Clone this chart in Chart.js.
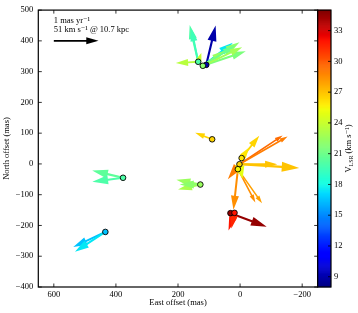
<!DOCTYPE html>
<html>
<head>
<meta charset="utf-8">
<script src="https://cdn.jsdelivr.net/npm/chart.js@4.4.1/dist/chart.umd.min.js"></script>
<style>
  html, body { margin: 0; padding: 0; background: #fff; }
  #wrap { width: 358px; height: 313px; }
</style>
</head>
<body>
<div id="wrap"><canvas id="c"></canvas></div>
<script>
// maser spots: east offset, north offset (mas), V_LSR (km/s)
const spotX = [109, 135, 120, 90, -5, 2, 7, 31, 18, 128, 377, 434];
const spotY = [322, 332, 319, 80, 19, -1, -17, -160, -159, -67, -45, -221];
const spotV = [9, 20, 22, 26.5, 26, 26.5, 25.5, 34.5, 32, 22.5, 20, 16.5];

// proper motions: start position (mas), motion east / north (mas/yr), V_LSR
const pmX = [109, 135, 135, 135, 120, 120, 120, 120, 135, 120, 120, 90,
  2, 2, -5, -5, 2, 2, 2, 7, 7, 7, 2, 2,
  31, 18, 18, 128, 128, 128, 377, 377, 434, 434];
const pmY = [322, 332, 332, 332, 319, 319, 319, 319, 332, 319, 319, 80,
  -1, -1, 19, 19, -1, -1, -1, -17, -17, -17, -1, -1,
  -160, -159, -159, -67, -67, -67, -45, -45, -221, -221];
const pmEast = [-0.21, 0.19, 0.15, 0.5, -0.67, -0.82, -0.96, -0.48, -0.07, -0.72, -0.88, 0.38,
  -0.965, -1.076, -0.395, -0.17, -1.337, -0.847, 0.26, -0.39, -0.54, 0.1, -0.07, 0.045,
  -0.81, 0.134, 0.07, 0.535, 0.5, 0.46, 0.69, 0.687, 0.718, 0.68];
const pmNorth = [0.89, 0.83, 0.74, -0.03, 0.52, 0.53, 0.33, 0.34, 0.2, 0.45, 0.42, 0.15,
  0.65, 0.625, 0.507, 0.24, -0.083, 0, -0.34, -0.75, -0.77, -0.915, -0.33, -0.22,
  -0.306, -0.4, -0.355, 0.11, -0.11, 0, 0.165, -0.09, -0.34, -0.447];
const pmV = [9, 20, 19.5, 23.5, 17.5, 22, 21.5, 22.5, 24, 21, 22.8, 26.5,
  29.5, 29, 26.5, 26, 27, 27, 29, 28.5, 28, 28.5, 25, 25.5,
  34.5, 32, 31.5, 22.5, 23, 22, 20.5, 20, 16.5, 17.5];

// scale arrow: 1 mas/yr drawn at (600, 400)
const refArrow = { x: 600, y: 400, east: -1, north: 0 };
const refText = ["1 mas yr\u207B\u00B9", "51 km s\u207B\u00B9 @ 10.7 kpc"];

const xTicks = [600, 400, 200, 0, -200];
const yTicks = [500, 400, 300, 200, 100, 0, -100, -200, -300, -400];
const cbTicks = [9, 12, 15, 18, 21, 24, 27, 30, 33];
const cbMin = 8, cbMax = 35;

// style: head width (px) of each arrow, same order as pmX
const headPx = [9, 8, 7, 7, 8, 8, 8, 7, 6, 7, 7, 5.5,
  4.5, 4.5, 7, 7, 10, 7, 9, 4.5, 4.5, 8, 9, 8,
  9, 8, 8, 8, 8, 8, 9, 9, 8, 8];
const pmScale = 144; // mas of plot per mas/yr
const FONT = "'Liberation Serif', 'DejaVu Serif', serif";
const fsz = 8.5;

function jet(v) {
  const t = Math.min(1, Math.max(0, (v - cbMin) / (cbMax - cbMin)));
  function lerp(pts) {
    for (let i = 1; i < pts.length; i++) {
      if (t <= pts[i][0]) {
        const a = pts[i - 1], b = pts[i];
        return a[1] + (b[1] - a[1]) * (t - a[0]) / (b[0] - a[0]);
      }
    }
    return pts[pts.length - 1][1];
  }
  const r = lerp([[0, 0], [0.35, 0], [0.66, 1], [0.89, 1], [1, 0.5]]);
  const g = lerp([[0, 0], [0.125, 0], [0.375, 1], [0.64, 1], [0.91, 0], [1, 0]]);
  const b = lerp([[0, 0.5], [0.11, 1], [0.34, 1], [0.65, 0], [1, 0]]);
  return "rgb(" + Math.round(r * 255) + "," + Math.round(g * 255) + "," + Math.round(b * 255) + ")";
}

function fmt(v) {
  return v < 0 ? "\u2212" + Math.abs(v) : String(v);
}

function drawArrow(ctx, x0, y0, x1, y1, head, color) {
  const dx = x1 - x0, dy = y1 - y0, len = Math.hypot(dx, dy);
  if (len < 0.5) return;
  const ux = dx / len, uy = dy / len, nx = -uy, ny = ux;
  const hl = Math.min(head * 1.75, len * 0.85), hw = head / 2, sw = 0.5 + head / 16;
  const bx = x1 - ux * hl, by = y1 - uy * hl;
  ctx.fillStyle = color;
  ctx.beginPath();
  ctx.moveTo(x0 + nx * sw, y0 + ny * sw);
  ctx.lineTo(bx + nx * sw, by + ny * sw);
  ctx.lineTo(bx + nx * hw, by + ny * hw);
  ctx.lineTo(x1, y1);
  ctx.lineTo(bx - nx * hw, by - ny * hw);
  ctx.lineTo(bx - nx * sw, by - ny * sw);
  ctx.lineTo(x0 - nx * sw, y0 - ny * sw);
  ctx.closePath();
  ctx.fill();
}

const arrowPlugin = {
  id: "arrows",
  beforeDatasetsDraw(chart) {
    const { ctx, scales: { x, y } } = chart;
    ctx.save();
    for (let i = 0; i < pmX.length; i++) {
      drawArrow(ctx,
        x.getPixelForValue(pmX[i]), y.getPixelForValue(pmY[i]),
        x.getPixelForValue(pmX[i] + pmEast[i] * pmScale),
        y.getPixelForValue(pmY[i] + pmNorth[i] * pmScale),
        headPx[i], jet(pmV[i]));
    }
    // reference arrow and its text
    const rx = x.getPixelForValue(refArrow.x), ry = y.getPixelForValue(refArrow.y);
    drawArrow(ctx, rx, ry,
      x.getPixelForValue(refArrow.x + refArrow.east * pmScale),
      y.getPixelForValue(refArrow.y + refArrow.north * pmScale), 7, "#000");
    ctx.fillStyle = "#000";
    ctx.font = fsz + "px " + FONT;
    ctx.textAlign = "left";
    ctx.textBaseline = "alphabetic";
    ctx.fillText(refText[0], rx, ry - 18);
    ctx.fillText(refText[1], rx, ry - 9);
    ctx.restore();
  },
  afterDatasetsDraw(chart) {
    const { ctx, chartArea: a, scales: { x, y, cb } } = chart;
    ctx.save();
    // frame with inward ticks
    ctx.strokeStyle = "#000";
    ctx.lineWidth = 0.8;
    ctx.beginPath();
    xTicks.forEach(function (v) {
      const px = x.getPixelForValue(v);
      ctx.moveTo(px, a.bottom); ctx.lineTo(px, a.bottom - 3.5);
      ctx.moveTo(px, a.top); ctx.lineTo(px, a.top + 3.5);
    });
    yTicks.forEach(function (v) {
      const py = y.getPixelForValue(v);
      ctx.moveTo(a.left, py); ctx.lineTo(a.left + 3.5, py);
      ctx.moveTo(a.right, py); ctx.lineTo(a.right - 3.5, py);
    });
    ctx.stroke();
    ctx.lineWidth = 1.2;
    ctx.strokeRect(a.left, a.top, a.right - a.left, a.bottom - a.top);

    // colour bar
    const cx0 = a.right, cx1 = a.right + 13.3;
    for (let v = cbMin; v < cbMax; v += 0.1) {
      const p0 = cb.getPixelForValue(v), p1 = cb.getPixelForValue(v + 0.1);
      ctx.fillStyle = jet(v + 0.05);
      ctx.fillRect(cx0, p1 - 0.3, cx1 - cx0, p0 - p1 + 0.6);
    }
    ctx.lineWidth = 0.8;
    ctx.strokeStyle = "#000";
    ctx.beginPath();
    cbTicks.forEach(function (v) {
      const py = cb.getPixelForValue(v);
      ctx.moveTo(cx1, py); ctx.lineTo(cx1 - 3, py);
    });
    ctx.stroke();
    ctx.lineWidth = 1.2;
    ctx.strokeRect(cx0, a.top, cx1 - cx0, a.bottom - a.top);
    ctx.fillStyle = "#000";
    ctx.font = fsz + "px " + FONT;
    ctx.textAlign = "left";
    ctx.textBaseline = "middle";
    cbTicks.forEach(function (v) {
      ctx.fillText(String(v), cx1 + 3, cb.getPixelForValue(v));
    });
    // colour bar label, reading upward
    ctx.translate(349, (a.top + a.bottom) / 2);
    ctx.rotate(-Math.PI / 2);
    const parts = [["V", fsz, 0], ["LSR", fsz * 0.7, 2], [" (km s\u207B\u00B9)", fsz, 0]];
    let w = 0;
    parts.forEach(function (p) { ctx.font = p[1] + "px " + FONT; w += ctx.measureText(p[0]).width; });
    let tx = -w / 2;
    parts.forEach(function (p) {
      ctx.font = p[1] + "px " + FONT;
      ctx.fillText(p[0], tx, p[2]);
      tx += ctx.measureText(p[0]).width;
    });
    ctx.restore();
  }
};

const tickFont = { family: FONT, size: fsz };

new Chart(document.getElementById("c"), {
  type: "scatter",
  data: {
    datasets: [{
      data: spotX.map(function (v, i) { return { x: v, y: spotY[i] }; }),
      pointBackgroundColor: spotV.map(jet),
      pointBorderColor: "#000",
      pointBorderWidth: 0.9,
      pointRadius: 2.8,
      pointHoverRadius: 2.8
    }]
  },
  options: {
    responsive: true,
    maintainAspectRatio: false,
    animation: false,
    events: [],
    layout: { padding: { top: 7, right: 40.3, left: 0, bottom: 0 } },
    plugins: { legend: { display: false }, tooltip: { enabled: false } },
    scales: {
      x: {
        type: "linear",
        reverse: true,
        min: -250,
        max: 650,
        afterBuildTicks: function (s) { s.ticks = xTicks.map(function (v) { return { value: v }; }); },
        afterFit: function (s) { s.height = 26; },
        grid: { display: false, drawTicks: false },
        border: { display: false },
        ticks: { font: tickFont, color: "#000", padding: 3, maxRotation: 0, callback: fmt },
        title: { display: true, text: "East offset (mas)", font: tickFont, color: "#000", padding: { top: 0, bottom: 5 } }
      },
      y: {
        type: "linear",
        min: -400,
        max: 500,
        afterBuildTicks: function (s) { s.ticks = yTicks.map(function (v) { return { value: v }; }); },
        afterFit: function (s) { s.width = 38.3; },
        grid: { display: false, drawTicks: false },
        border: { display: false },
        ticks: { font: tickFont, color: "#000", padding: 5, callback: fmt },
        title: { display: true, text: "North offset (mas)", font: tickFont, color: "#000", padding: { top: 2, bottom: 0 } }
      },
      cb: {
        type: "linear",
        axis: "y",
        position: "right",
        display: false,
        min: cbMin,
        max: cbMax
      }
    }
  },
  plugins: [arrowPlugin]
});
</script>
</body>
</html>
